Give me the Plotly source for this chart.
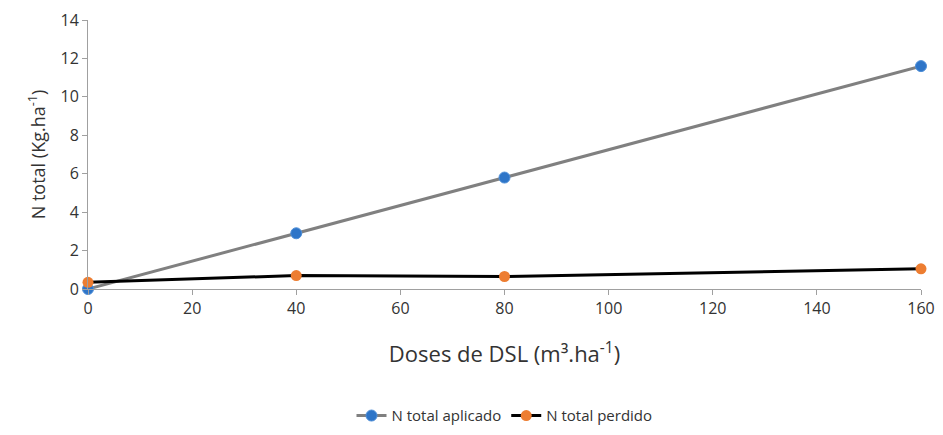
import plotly.graph_objects as go

doses = [0, 40, 80, 160]
n_aplicado = [0.0, 2.9, 5.8, 11.6]
n_perdido = [0.35, 0.7, 0.65, 1.05]

fig = go.Figure()
fig.add_trace(go.Scatter(x=doses, y=n_aplicado, mode="lines+markers", name="N total aplicado",
                         line=dict(color="#808080", width=3), cliponaxis=False,
                         marker=dict(color="#2E75C8", size=11, line=dict(color="#4F8FD8", width=1))))
fig.add_trace(go.Scatter(x=doses, y=n_perdido, mode="lines+markers", name="N total perdido",
                         line=dict(color="#000000", width=3), cliponaxis=False,
                         marker=dict(color="#ED7D31", size=11)))

fig.update_layout(
    width=927, height=419,
    margin=dict(l=80, r=14, t=12, b=138, autoexpand=False),
    plot_bgcolor="white", paper_bgcolor="white",
    font=dict(family="Open Sans, Liberation Sans, Arial", color="#333333", size=16),
    xaxis=dict(range=[0, 160], dtick=20, showgrid=False, showline=True, linecolor="#A0A0A0",
               ticks="outside", tickcolor="#A0A0A0", ticklen=5, zeroline=False, automargin=False,
               title=dict(text="Doses de DSL (m³.ha<sup>-1</sup>)", font=dict(size=22), standoff=28)),
    yaxis=dict(range=[0, 14], dtick=2, showgrid=False, showline=True, linecolor="#A0A0A0",
               ticks="outside", tickcolor="#A0A0A0", ticklen=5, zeroline=False, automargin=False,
               title=dict(text="N total (Kg.ha<sup>-1</sup>)", font=dict(size=18), standoff=10)),
    legend=dict(orientation="h", x=0.5, xanchor="center", y=-0.41, yanchor="top", font=dict(size=15)),
)
fig.write_html("out.html")
